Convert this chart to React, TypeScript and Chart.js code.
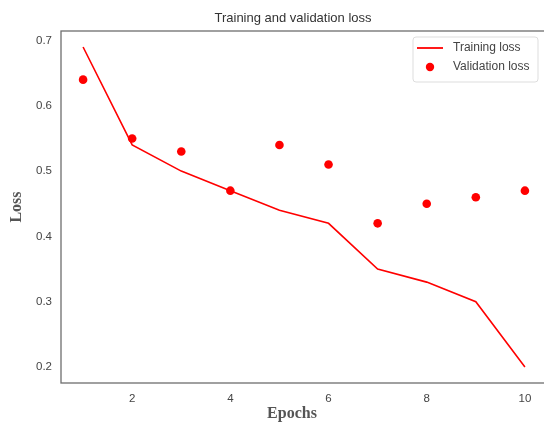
import React, { useEffect, useRef } from "react";
import { Chart, registerables } from "chart.js";

Chart.register(...registerables);

const epochs = [1, 2, 3, 4, 5, 6, 7, 8, 9, 10];
const trainingLoss = [0.69, 0.54, 0.5, 0.47, 0.44, 0.42, 0.35, 0.33, 0.3, 0.2];
const validationLoss = [0.64, 0.55, 0.53, 0.47, 0.54, 0.51, 0.42, 0.45, 0.46, 0.47];
const xTickValues = [2, 4, 6, 8, 10];
const yTickValues = [0.2, 0.3, 0.4, 0.5, 0.6, 0.7];
const chartTitle = "Training and validation loss";
const xLabel = "Epochs";
const yLabel = "Loss";
const legendLabels = ["Training loss", "Validation loss"];

const RED = "#ff0000";
const TEXT = "#444444";

const decorPlugin = {
  id: "decor",
  beforeDatasetsDraw(chart: any) {
    const { ctx, chartArea } = chart;
    ctx.save();
    ctx.strokeStyle = "#6e6e6e";
    ctx.lineWidth = 1.3;
    ctx.strokeRect(chartArea.left, chartArea.top, chartArea.right - chartArea.left, chartArea.bottom - chartArea.top);
    ctx.restore();
  },
  afterDraw(chart: any) {
    const { ctx } = chart;
    ctx.save();
    // title
    ctx.fillStyle = "#333333";
    ctx.font = "13px 'Liberation Sans', Arial, sans-serif";
    ctx.textAlign = "center";
    ctx.textBaseline = "middle";
    ctx.fillText(chartTitle, 293, 18);
    // axis labels
    ctx.fillStyle = "#555555";
    ctx.font = "bold 16px 'Liberation Serif', serif";
    ctx.fillText(xLabel, 292, 414);
    ctx.save();
    ctx.translate(17, 207);
    ctx.rotate(-Math.PI / 2);
    ctx.fillText(yLabel, 0, 0);
    ctx.restore();
    // legend
    const bx = 413, by = 37, bw = 125, bh = 45, r = 3;
    ctx.beginPath();
    ctx.moveTo(bx + r, by);
    ctx.lineTo(bx + bw - r, by);
    ctx.quadraticCurveTo(bx + bw, by, bx + bw, by + r);
    ctx.lineTo(bx + bw, by + bh - r);
    ctx.quadraticCurveTo(bx + bw, by + bh, bx + bw - r, by + bh);
    ctx.lineTo(bx + r, by + bh);
    ctx.quadraticCurveTo(bx, by + bh, bx, by + bh - r);
    ctx.lineTo(bx, by + r);
    ctx.quadraticCurveTo(bx, by, bx + r, by);
    ctx.closePath();
    ctx.fillStyle = "rgba(255,255,255,0.85)";
    ctx.fill();
    ctx.strokeStyle = "#dddddd";
    ctx.lineWidth = 1;
    ctx.stroke();
    ctx.strokeStyle = RED;
    ctx.lineWidth = 1.8;
    ctx.beginPath();
    ctx.moveTo(417, 48);
    ctx.lineTo(443, 48);
    ctx.stroke();
    ctx.fillStyle = RED;
    ctx.beginPath();
    ctx.arc(430, 67, 4.2, 0, Math.PI * 2);
    ctx.fill();
    ctx.fillStyle = TEXT;
    ctx.font = "12px 'Liberation Sans', Arial, sans-serif";
    ctx.textAlign = "left";
    ctx.fillText(legendLabels[0], 453, 48);
    ctx.fillText(legendLabels[1], 453, 67);
    ctx.restore();
  },
};

export default function App() {
  const ref = useRef<HTMLCanvasElement | null>(null);
  useEffect(() => {
    if (!ref.current) return;
    const chart = new Chart(ref.current, {
      type: "line",
      data: {
        datasets: [
          {
            label: legendLabels[0],
            data: epochs.map((e, i) => ({ x: e, y: trainingLoss[i] })),
            borderColor: RED,
            backgroundColor: RED,
            borderWidth: 1.6,
            pointRadius: 0,
            tension: 0,
          },
          {
            label: legendLabels[1],
            data: epochs.map((e, i) => ({ x: e, y: validationLoss[i] })),
            showLine: false,
            borderColor: RED,
            backgroundColor: RED,
            borderWidth: 0,
            pointRadius: 4.3,
          },
        ],
      },
      options: {
        responsive: false,
        animation: false,
        events: [],
        layout: { padding: { top: 31, right: 13, left: 0, bottom: 0 } },
        plugins: { legend: { display: false }, title: { display: false }, tooltip: { enabled: false } },
        scales: {
          x: {
            type: "linear",
            min: 0.55,
            max: 10.45,
            grid: { display: false, drawTicks: false },
            border: { display: false },
            afterFit: (s: any) => { s.height = 40; },
            afterBuildTicks: (s: any) => { s.ticks = xTickValues.map((v) => ({ value: v })); },
            ticks: {
              padding: 9,
              color: TEXT,
              font: { family: "'Liberation Sans', Arial, sans-serif", size: 11.5 },
              maxRotation: 0,
              autoSkip: false,
              callback: (v: any) => String(v),
            },
          },
          y: {
            type: "linear",
            min: 0.1755,
            max: 0.7145,
            grid: { display: false, drawTicks: false },
            border: { display: false },
            afterFit: (s: any) => { s.width = 61; },
            afterBuildTicks: (s: any) => { s.ticks = yTickValues.map((v) => ({ value: v })); },
            ticks: {
              padding: 9,
              color: TEXT,
              font: { family: "'Liberation Sans', Arial, sans-serif", size: 11.5 },
              autoSkip: false,
              callback: (v: any) => Number(v).toFixed(1),
            },
          },
        },
      },
      plugins: [decorPlugin],
    } as any);
    return () => chart.destroy();
  }, []);
  return (
    <div style={{ position: "fixed", left: 0, top: 0, width: 560, height: 423, background: "#fff" }}>
      <canvas ref={ref} width={560} height={423} style={{ display: "block" }} />
    </div>
  );
}
